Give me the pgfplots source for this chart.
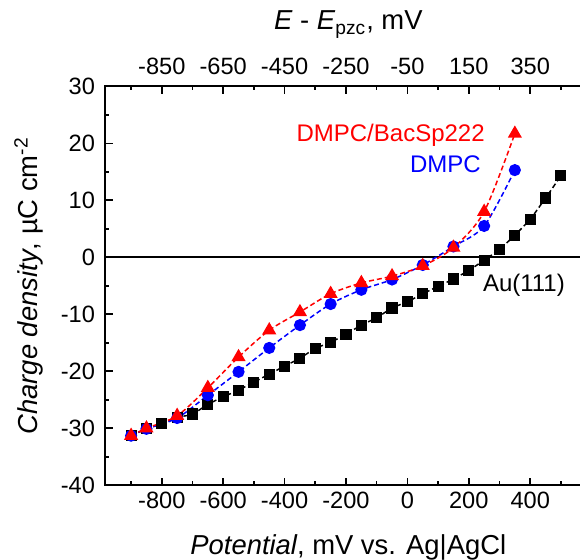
\documentclass[border=0pt]{standalone}
\usepackage{pgfplots}
\pgfplotsset{compat=1.18}
\usepackage{fontspec}
\setmainfont{Liberation Sans}
\definecolor{myred}{RGB}{255,0,0}
\definecolor{myblue}{RGB}{0,0,255}

\pgfplotstableread{
x y
-900 -31.3
-850 -30.1
-800 -29.2
-750 -28.1
-700 -27.5
-650 -25.8
-600 -24.5
-550 -23.3
-500 -21.9
-450 -20.5
-400 -19.1
-350 -17.7
-300 -16.0
-250 -14.9
-200 -13.5
-150 -11.9
-100 -10.6
-50 -8.9
0 -7.8
50 -6.4
100 -5.1
150 -3.8
200 -2.3
250 -0.5
300 1.4
350 3.9
400 6.7
450 10.4
500 14.3
}\auData

\pgfplotstableread{
x y
-900 -31.3
-850 -30.1
-750 -28.2
-650 -24.2
-550 -20.1
-450 -15.9
-350 -11.9
-250 -8.2
-150 -5.7
-50 -3.9
50 -1.35
150 1.9
250 5.5
350 15.3
}\dmpcData

\pgfplotstableread{
x y
-900 -31.3
-850 -30.0
-750 -27.8
-650 -22.9
-550 -17.5
-450 -12.8
-350 -9.6
-250 -6.4
-150 -4.5
-50 -3.3
50 -1.5
150 1.7
250 8.0
350 21.7
}\bacData

\begin{document}
\begin{tikzpicture}
\pgfplotsset{
 common/.style={
  scale only axis, width=243.3pt, height=199.5pt,
  at={(0pt,0pt)}, anchor=south west,
  ymin=-40, ymax=30,
  tick align=inside,
  major tick length=3.85pt, minor tick length=2pt,
  axis line style={line width=1pt},
  every tick/.style={black, line width=0.8pt},
  /pgf/number format/assume math mode=true,
  tick label style={font=\fontsize{11.8}{13}\selectfont},
  label style={font=\fontsize{13.7}{16}\selectfont},
 }
}
\begin{axis}[common,
  xmin=-985, xmax=600,
  xtick={-800,-600,...,400}, minor xtick={-900,-700,...,500},
  ytick={-40,-30,...,30}, minor ytick={-35,-25,...,25},
  xtick pos=left, ytick pos=left,
  yticklabel style={xshift=-1.5pt},
  xlabel={\textit{Potential}, mV vs. Ag|AgCl},
  ylabel={\textit{Charge density}, µC cm\textsuperscript{-2}},
  xlabel style={at={(axis description cs:0.5,0)}, anchor=base, yshift=-34.5pt},
  ylabel style={at={(axis description cs:-0.1377,0.5)}, anchor=base},
]
\addplot[black, line width=1pt] coordinates {(-985,0) (600,0)};
\addplot[black, line width=0.75pt, dash pattern=on 2.5pt off 1.5pt, smooth, tension=0.5,
  mark=square*, mark size=2.4pt, mark options={solid, fill=black}] table {\auData};
\addplot[myblue, line width=0.75pt, dash pattern=on 2.5pt off 1.5pt, smooth, tension=0.5,
  mark=*, mark size=2.65pt, mark options={solid, fill=myblue}] table {\dmpcData};
\addplot[myred, line width=0.75pt, dash pattern=on 2.5pt off 1.5pt, smooth, tension=0.5,
  mark=triangle*, mark size=3.35pt, mark options={solid, fill=myred}] table {\bacData};
\node[anchor=base east, inner sep=0pt, text=myred, font=\fontsize{12}{14}\selectfont] at (axis cs:253,20.3) {DMPC/BacSp222};
\node[anchor=base east, inner sep=0pt, text=myblue, font=\fontsize{12}{14}\selectfont] at (axis cs:240,14.8) {DMPC};
\node[anchor=base west, inner sep=0pt, text=black, font=\fontsize{12}{14}\selectfont] at (axis cs:245,-6.0) {Au(111)};
\end{axis}
\begin{axis}[common,
  xmin=-1035, xmax=550,
  hide y axis,
  xtick={-850,-650,...,350}, minor xtick={-950,-750,...,450},
  xtick pos=right, xticklabel pos=right,
  xticklabel style={yshift=2.5pt},
  xlabel={\textit{E} - \textit{E}\textsubscript{pzc}, mV},
  xlabel style={at={(axis description cs:0.5,1)}, anchor=base, yshift=28.2pt},
]
\end{axis}
\pgfresetboundingbox
\useasboundingbox (-52.5pt,-37.35pt) rectangle (237.5pt,242.65pt);
\end{tikzpicture}
\end{document}
